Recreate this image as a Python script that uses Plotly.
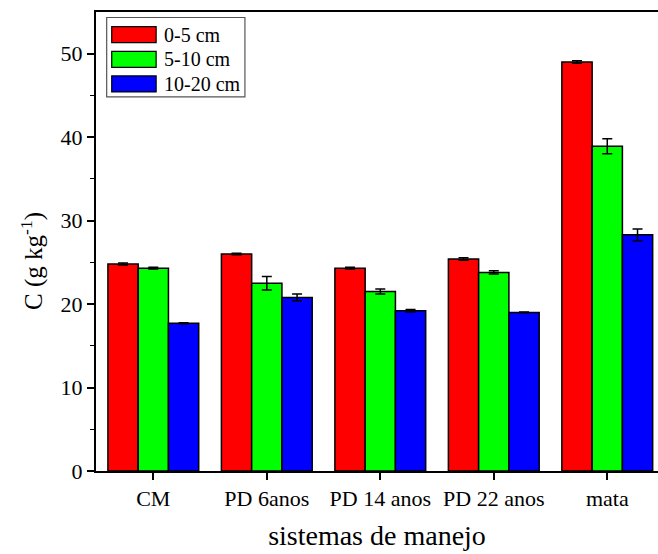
import plotly.graph_objects as go

categories = ["CM", "PD 6anos", "PD 14 anos", "PD 22 anos", "mata"]
series_names = ["0-5 cm", "5-10 cm", "10-20 cm"]
series_colors = ["#FF0000", "#00FF00", "#0000FF"]
values_0_5 = [24.8, 26.0, 24.3, 25.4, 49.0]
values_5_10 = [24.3, 22.5, 21.5, 23.8, 38.9]
values_10_20 = [17.7, 20.8, 19.2, 19.0, 28.3]
err_0_5 = [0.12, 0.1, 0.1, 0.15, 0.15]
err_5_10 = [0.1, 0.8, 0.3, 0.2, 0.9]
err_10_20 = [0.05, 0.4, 0.15, 0.05, 0.7]

all_values = [values_0_5, values_5_10, values_10_20]
all_errs = [err_0_5, err_5_10, err_10_20]

FONT = "Liberation Serif"

fig = go.Figure()
for name, color, vals, errs in zip(series_names, series_colors, all_values, all_errs):
    fig.add_trace(go.Bar(
        x=categories, y=vals, name=name,
        marker=dict(color=color, line=dict(color="black", width=1.5)),
        error_y=dict(type="data", array=errs, visible=True, color="black",
                     thickness=1.5, width=5),
        showlegend=False,
    ))

# manual legend (large swatches like the original)
box_x0, box_x1 = 0.019, 0.265
box_y1, box_y0 = 0.988, 0.815
fig.add_shape(type="rect", xref="paper", yref="paper",
              x0=box_x0, x1=box_x1, y0=box_y0, y1=box_y1,
              line=dict(color="#555555", width=1.2), fillcolor="white", layer="above")
row_px = 24.6
for i, (name, color) in enumerate(zip(series_names, series_colors)):
    yc = (471 - (34.7 + i * row_px)) / 459.0
    h = 8.0 / 459.0
    fig.add_shape(type="rect", xref="paper", yref="paper",
                  x0=0.028, x1=0.107, y0=yc - h, y1=yc + h,
                  line=dict(color="black", width=1.2), fillcolor=color, layer="above")
    fig.add_annotation(x=0.117, y=yc, xref="paper", yref="paper",
                       text=name, showarrow=False, xanchor="left", yanchor="middle",
                       font=dict(family=FONT, size=20, color="black"))

# y-axis title as a rotated annotation (placed like the original)
fig.add_annotation(x=-0.114, y=0.4575, xref="paper", yref="paper",
                   text="C (g kg<sup>-1</sup>)", textangle=-90, showarrow=False,
                   xanchor="center", yanchor="middle",
                   font=dict(family=FONT, size=25, color="black"))

fig.update_layout(
    width=658, height=554,
    margin=dict(l=96, r=0, t=12, b=83),
    barmode="group", bargap=0.2, bargroupgap=0.0,
    plot_bgcolor="white", paper_bgcolor="white",
    font=dict(family=FONT, color="black"),
)
fig.update_xaxes(
    range=[-0.505, 4.447], showline=True, linecolor="black", linewidth=2,
    mirror=True, ticks="outside", ticklen=7, tickwidth=1.5, tickcolor="black",
    tickfont=dict(family=FONT, size=22, color="black"),
    title=dict(text="sistemas de manejo", font=dict(family=FONT, size=28, color="black"),
               standoff=15),
    showgrid=False,
)
fig.update_yaxes(
    range=[0, 55], tickvals=[0, 10, 20, 30, 40, 50], showline=True, linecolor="black",
    linewidth=2, mirror=False, ticks="outside", ticklen=7, tickwidth=1.5, tickcolor="black",
    minor=dict(tickvals=[5, 15, 25, 35, 45], ticks="outside", ticklen=4, tickwidth=1,
               tickcolor="black", showgrid=False),
    tickfont=dict(family=FONT, size=22, color="black"),
    showgrid=False, zeroline=False,
)

fig.write_html("out.html")
